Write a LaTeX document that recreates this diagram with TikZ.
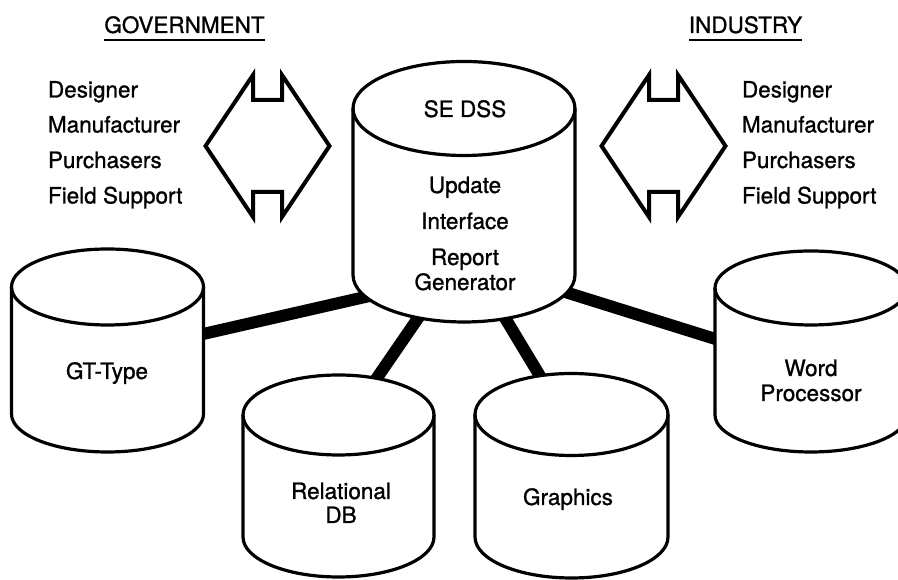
\documentclass[tikz,border=0pt]{standalone}
\usepackage{fontspec}
\setmainfont{TeX Gyre Heros}[FakeBold=1]

% drum-shaped data store: name, centre x, top centre y, bottom centre y, x radius, y radius
\newcommand\drumstore[6]{%
  \path[drum] (#2-#5,#3) -- (#2-#5,#4)
    arc[start angle=180, end angle=360, x radius=#5, y radius=#6]
    -- (#2+#5,#3)
    arc[start angle=0, end angle=180, x radius=#5, y radius=#6] -- cycle;
  \draw[drumline] (#2-#5,#3) arc[start angle=180, end angle=360, x radius=#5, y radius=#6];
  \coordinate (#1) at (#2,{(#3+#4)/2});
}

\begin{document}
\begin{tikzpicture}[x=1pt,y=1pt,
  txt/.style={inner sep=0pt, outer sep=0pt, font=\fontsize{22.5}{27}\selectfont},
  drum/.style={draw=black, fill=white, line width=3.2pt, line join=round},
  drumline/.style={draw=black, line width=3.2pt},
  link/.style={draw=black, line width=12pt, line cap=butt},
  flow/.style={draw=black, line width=4pt, line join=miter},
  swap arrow/.pic={
    \draw[flow] (-14.5,71) -- (-62,0) -- (-14.5,-71) -- (-14.5,-46) -- (14.5,-46)
      -- (14.5,-71) -- (62,0) -- (14.5,71) -- (14.5,46) -- (-14.5,46) -- cycle;
  }
]
\useasboundingbox (0,0) rectangle (898,580);
\clip (0,0) rectangle (898,580);

% connection end points (hidden inside the drums)
\coordinate (hub-w)  at (380,286.4);
\coordinate (gt-e)   at (190,243);
\coordinate (hub-sw) at (425,272);
\coordinate (rel-n)  at (370,192);
\coordinate (hub-se) at (499,272);
\coordinate (gfx-n)  at (546,194);
\coordinate (hub-e)  at (558,290.2);
\coordinate (wp-w)   at (725,238);

\draw[link] (hub-w)  -- (gt-e);
\draw[link] (hub-sw) -- (rel-n);
\draw[link] (hub-se) -- (gfx-n);
\draw[link] (hub-e)  -- (wp-w);

% data stores
\drumstore{hub}{464}{471.5}{305}{111}{47}
\drumstore{gt}{107.5}{293}{166}{96}{38}
\drumstore{rel}{338.5}{165}{43}{95.5}{40}
\drumstore{gfx}{571.5}{165.5}{43}{96.5}{41}
\drumstore{wp}{811}{292}{165}{96}{37}

% exchange arrows
\pic (govarrow) at (267.5,434) {swap arrow};
\pic (indarrow) at (663.5,434) {swap arrow};

% headings
\node[txt, anchor=base] (gov) at (184.5,547) {GOVERNMENT};
\draw[line width=2pt] ([yshift=-6.5pt]gov.south west) -- ([yshift=-6.5pt]gov.south east);
\node[txt, anchor=base] (ind) at (745.5,547) {INDUSTRY};
\draw[line width=2pt] ([yshift=-6.5pt]ind.south west) -- ([yshift=-6.5pt]ind.south east);

% roles
\node[txt, anchor=base west] (g1) at (48,482.5) {Designer};
\node[txt, anchor=base west] (g2) at (48,447.5) {Manufacturer};
\node[txt, anchor=base west] (g3) at (48,412) {Purchasers};
\node[txt, anchor=base west] (g4) at (48,376.5) {Field Support};
\node[txt, anchor=base west] (i1) at (742,482.5) {Designer};
\node[txt, anchor=base west] (i2) at (742,447.5) {Manufacturer};
\node[txt, anchor=base west] (i3) at (742,412) {Purchasers};
\node[txt, anchor=base west] (i4) at (742,376.5) {Field Support};

% store labels
\node[txt, anchor=base] (hubname) at (465,463) {SE DSS};
\node[txt, anchor=base] (hub1) at (465,387) {Update};
\node[txt, anchor=base] (hub2) at (465,351) {Interface};
\node[txt, anchor=base] (hub3) at (465,315) {Report};
\node[txt, anchor=base] (hub4) at (465,290) {Generator};
\node[txt, anchor=base] (gtname) at (107,201) {GT-Type};
\node[txt, anchor=base] (rel1) at (341,81) {Relational};
\node[txt, anchor=base] (rel2) at (341,57) {DB};
\node[txt, anchor=base] (gfxname) at (568,75) {Graphics};
\node[txt, anchor=base] (wp1) at (811,204) {Word};
\node[txt, anchor=base] (wp2) at (811,179) {Processor};
\end{tikzpicture}
\end{document}
